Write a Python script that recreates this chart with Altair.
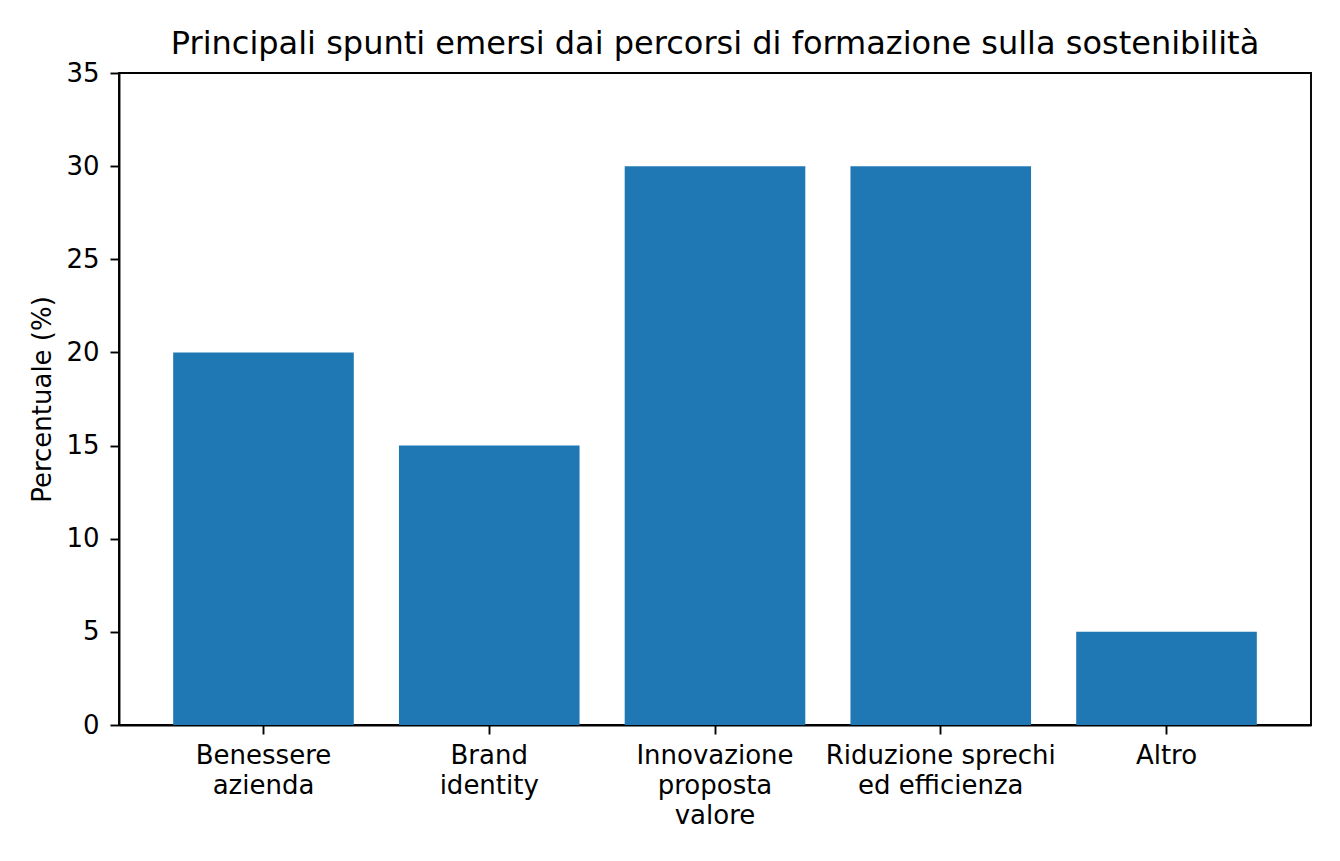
import altair as alt
import pandas as pd

categories = ["Benessere\nazienda", "Brand\nidentity", "Innovazione\nproposta\nvalore",
              "Riduzione sprechi\ned efficienza", "Altro"]
values = [20, 15, 30, 30, 5]
y_ticks = [0, 5, 10, 15, 20, 25, 30, 35]

df = pd.DataFrame({"cat": categories, "val": values})

FONT = "DejaVu Sans"
LW = 1.9

chart = alt.Chart(df).mark_bar(color="#1f77b4").encode(
    x=alt.X("cat:N", sort=None,
            scale=alt.Scale(paddingInner=0.2, paddingOuter=0.24),
            axis=alt.Axis(title=None, labelAngle=0, labelExpr="split(datum.label, '\\n')",
                          labelFont=FONT, labelFontSize=26, labelColor="black",
                          labelLineHeight=30, labelPadding=8, labelBaseline="top",
                          labelLimit=500,
                          tickSize=9, tickWidth=LW, tickColor="black",
                          domainColor="black", domainWidth=LW)),
    y=alt.Y("val:Q", scale=alt.Scale(domain=[0, 35], nice=False),
            axis=alt.Axis(title="Percentuale (%)", values=y_ticks, grid=False,
                          labelFont=FONT, labelFontSize=26, labelColor="black",
                          labelPadding=11, tickSize=9, tickWidth=LW, tickColor="black",
                          domainColor="black", domainWidth=LW,
                          titleFont=FONT, titleFontSize=26, titleFontWeight="normal",
                          titleColor="black", titleAngle=270, titleBaseline="alphabetic",
                          titleX=-69, titleY=326, titleAlign="center")),
).properties(
    width=1192, height=652,
    title=alt.TitleParams("Principali spunti emersi dai percorsi di formazione sulla sostenibilità",
                          font=FONT, fontSize=32, fontWeight="normal", color="black",
                          anchor="middle", baseline="alphabetic", offset=17, dy=43),
    autosize=alt.AutoSizeParams(type="none"),
    padding={"left": 111, "top": 65, "right": 20, "bottom": 120},
).configure_view(stroke="black", strokeWidth=LW)

chart.save("out.html", embed_options={"renderer": "svg", "actions": False})
